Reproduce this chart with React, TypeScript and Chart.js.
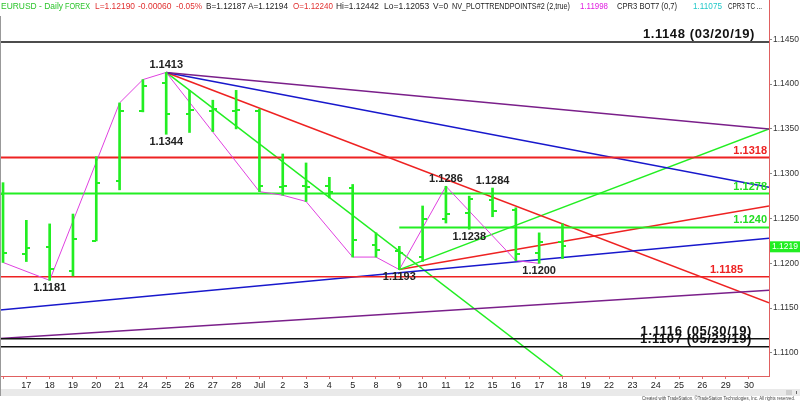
import React, { useEffect, useRef } from 'react';
import { Chart, registerables } from 'chart.js';

Chart.register(...registerables);

// ---------- data ----------
const xLabels = ['', '17', '18', '19', '20', '21', '24', '25', '26', '27', '28', 'Jul', '2', '3', '4', '5', '8', '9', '10', '11', '12', '15', '16', '17', '18', '19', '22', '23', '24', '25', '26', '29', '30'];

const opens = [1.1277, 1.1210, 1.1218, 1.1192, 1.1225, 1.1292, 1.1370, 1.1401, 1.1367, 1.1370, 1.1370, 1.1370, 1.1285, 1.1286, 1.1286, 1.1284, 1.1220, 1.1214, 1.1207, 1.1250, 1.1256, 1.1271, 1.1260, 1.1211, 1.1224];
const highs = [1.1290, 1.1248, 1.1244, 1.1255, 1.1319, 1.1379, 1.1405, 1.1413, 1.1393, 1.1382, 1.1393, 1.1372, 1.1322, 1.1312, 1.1296, 1.1288, 1.1234, 1.1219, 1.1264, 1.1286, 1.1275, 1.1284, 1.1262, 1.1234, 1.12442];
const lows = [1.1201, 1.1202, 1.1181, 1.1186, 1.1225, 1.1282, 1.1369, 1.1344, 1.1346, 1.1347, 1.1350, 1.1280, 1.1276, 1.1269, 1.1273, 1.1207, 1.1207, 1.1193, 1.1202, 1.1245, 1.1238, 1.1252, 1.1203, 1.1200, 1.12053];
const closes = [1.1211, 1.1217, 1.1194, 1.1227, 1.1290, 1.1370, 1.1398, 1.1367, 1.1371, 1.1372, 1.1371, 1.1286, 1.1286, 1.1285, 1.1280, 1.1226, 1.1215, 1.1212, 1.1250, 1.1255, 1.1272, 1.1258, 1.1210, 1.1224, 1.1219];

const zigIdx = [0, 2, 5, 6, 7, 11, 12, 13, 15, 16, 17, 19, 22, 23];
const zigPrice = [1.1201, 1.1181, 1.1379, 1.1405, 1.1413, 1.1280, 1.1276, 1.1269, 1.1207, 1.1207, 1.1193, 1.1286, 1.1203, 1.1200];

const yTicks = [1.1100, 1.1150, 1.1200, 1.1250, 1.1300, 1.1350, 1.1400, 1.1450];
const xMin = -0.13;
const xMax = 32.86;
const yMin = 1.10743;
const yMax = 1.14715;

// trend lines: [index, price] pairs
const purpleDown = [[7, 1.1413], [32.86, 1.1350]];
const blueDown = [[7, 1.1413], [32.86, 1.1285]];
const redDown = [[7, 1.1413], [32.86, 1.1156]];
const greenDown = [[7, 1.1413], [24, 1.1074]];
const greenUp = [[17, 1.1193], [32.86, 1.1350]];
const redUp = [[17, 1.1193], [32.86, 1.1264]];
const blueLong = [[-0.13, 1.1148], [32.86, 1.1228]];
const purpleLong = [[-0.13, 1.1116], [32.86, 1.1170]];

// horizontal levels
const levelPrices = [1.1447, 1.1318, 1.1278, 1.1185, 1.1116, 1.1107];
const levelTexts = ['1.1148 (03/20/19)', '1.1318', '1.1278', '1.1185', '1.1116 (05/30/19)', '1.1107 (05/23/19)'];
const partialLevelPrice = 1.1240;
const partialLevelStart = 17;
const partialLevelText = '1.1240';

// swing labels
const swingIdx = [7, 7, 2, 17, 19, 21, 20, 23];
const swingPrice = [1.1413, 1.1344, 1.1181, 1.1193, 1.1286, 1.1284, 1.1238, 1.1200];
const swingAbove = [true, false, false, false, true, true, false, false];

const lastPrice = 1.1219;

const headerTexts = ['EURUSD - Daily', 'FOREX', 'L=1.12190', '-0.00060', '-0.05%', 'B=1.12187', 'A=1.12194', 'O=1.12240', 'Hi=1.12442', 'Lo=1.12053', 'V=0', 'NV_PLOTTRENDPOINTS#2 (2,true)', '1.11998', 'CPR3 BOT7 (0,7)', '1.11075', 'CPR3 TC ...'];

// ---------- styles ----------
const GREEN = '#22ee22';
const RED = '#ee2222';
const BLUE = '#1818cc';
const PURPLE = '#7a1f8a';
const MAGENTA = '#e040e0';
const BLACK = '#111111';
const FONT = '"Liberation Sans", Arial, sans-serif';

const levelColors = [BLACK, RED, GREEN, RED, BLACK, BLACK];
const levelWidths = [1.5, 2, 2, 1.5, 1.5, 1.5];
const levelLabelRight = [755, 767, 767, 743, 752, 752];
const levelLabelColors = [BLACK, RED, '#22dd22', RED, BLACK, BLACK];
const levelLabelWide = [true, false, false, false, true, true];

const headerX = [1, 65, 95, 138, 176, 206, 248, 293, 336, 384, 433, 452, 580, 617, 693, 728];
const headerW = [62, 25, 40, 35, 26, 40, 40, 40, 43, 46, 15, 118, 28, 60, 29, 34];
const headerColors = ['#2cc42c', '#2cc42c', '#e03030', '#e03030', '#e03030', '#222', '#222', '#e03030', '#222', '#222', '#222', '#222', '#e020e0', '#222', '#22c8c8', '#222'];

const toPts = (arr: number[][]) => arr.map(([x, y]) => ({ x, y }));

const overlay = {
  id: 'overlay',
  afterDatasetsDraw(chart: any) {
    const { ctx, scales } = chart;
    const x = scales.x;
    const y = scales.y;
    ctx.save();
    // OHLC open/close ticks
    ctx.strokeStyle = GREEN;
    ctx.lineWidth = 2;
    opens.forEach((o, i) => {
      const px = Math.round(x.getPixelForValue(i));
      const oy = Math.round(y.getPixelForValue(o));
      const cy = Math.round(y.getPixelForValue(closes[i]));
      ctx.beginPath();
      ctx.moveTo(px - 4, oy);
      ctx.lineTo(px, oy);
      ctx.moveTo(px, cy);
      ctx.lineTo(px + 4, cy);
      ctx.stroke();
    });

    // swing labels
    ctx.font = `bold 11px ${FONT}`;
    ctx.fillStyle = '#222';
    ctx.textAlign = 'center';
    swingIdx.forEach((si, k) => {
      const px = x.getPixelForValue(si);
      const py = y.getPixelForValue(swingPrice[k]);
      if (swingAbove[k]) {
        ctx.textBaseline = 'bottom';
        ctx.fillText(swingPrice[k].toFixed(4), px, py - 2);
      } else {
        ctx.textBaseline = 'top';
        ctx.fillText(swingPrice[k].toFixed(4), px, py + 2);
      }
    });

    // level labels
    ctx.textAlign = 'right';
    ctx.textBaseline = 'bottom';
    levelTexts.forEach((t, k) => {
      ctx.fillStyle = levelLabelColors[k];
      if (levelLabelWide[k]) {
        ctx.font = `bold 13px ${FONT}`;
        (ctx as any).letterSpacing = '0.6px';
      } else {
        ctx.font = `bold 11px ${FONT}`;
        (ctx as any).letterSpacing = '0px';
      }
      ctx.fillText(t, levelLabelRight[k], y.getPixelForValue(levelPrices[k]) - 1);
    });
    (ctx as any).letterSpacing = '0px';
    ctx.font = `bold 11px ${FONT}`;
    ctx.fillStyle = '#22dd22';
    ctx.fillText(partialLevelText, 767, y.getPixelForValue(partialLevelPrice) - 2);
    ctx.restore();
  },
  afterDraw(chart: any) {
    const { ctx, scales, chartArea } = chart;
    const y = scales.y;
    ctx.save();
    // right axis line extends to top
    ctx.strokeStyle = '#e06060';
    ctx.lineWidth = 1;
    ctx.beginPath();
    ctx.moveTo(chartArea.right + 0.5, 0);
    ctx.lineTo(chartArea.right + 0.5, chartArea.bottom);
    ctx.stroke();
    // left gray border
    ctx.strokeStyle = '#999';
    ctx.beginPath();
    ctx.moveTo(0.5, 16);
    ctx.lineTo(0.5, 396);
    ctx.stroke();

    // last price box
    const ly = y.getPixelForValue(lastPrice);
    ctx.fillStyle = '#22ee22';
    ctx.fillRect(chartArea.right + 1, ly - 5, 31, 11);
    ctx.fillStyle = '#ffffff';
    ctx.font = `8.5px ${FONT}`;
    ctx.textAlign = 'left';
    ctx.textBaseline = 'middle';
    ctx.fillText(lastPrice.toFixed(4), chartArea.right + 3, ly + 0.5, 27);

    // header
    ctx.font = `8.5px ${FONT}`;
    ctx.textBaseline = 'middle';
    headerTexts.forEach((t, k) => {
      ctx.fillStyle = headerColors[k];
      ctx.fillText(t, headerX[k], 6.5, headerW[k]);
    });

    // scrollbar band
    ctx.fillStyle = '#e9e9e9';
    ctx.fillRect(1, 389, 799, 7);
    ctx.fillStyle = '#cfcfcf';
    ctx.fillRect(786, 390, 6, 5);
    ctx.fillStyle = '#666';
    ctx.fillRect(796, 391, 1, 3);

    // footer
    ctx.fillStyle = '#444';
    ctx.font = `5px ${FONT}`;
    ctx.textAlign = 'right';
    ctx.textBaseline = 'middle';
    ctx.fillText('Created with TradeStation. \u00A9TradeStation Technologies, Inc. All rights reserved.', 795, 399, 153);
    ctx.restore();
  },
};

export default function App() {
  const ref = useRef<HTMLCanvasElement>(null);
  useEffect(() => {
    if (!ref.current) return;
    const lineDs = (data: any[], color: string, width: number) => ({
      type: 'line' as const,
      data,
      borderColor: color,
      borderWidth: width,
      pointRadius: 0,
      fill: false,
      tension: 0,
      order: 2,
    });
    const datasets: any[] = [
      {
        type: 'bar',
        data: highs.map((h, i) => ({ x: i, y: [lows[i], h] })),
        backgroundColor: GREEN,
        borderWidth: 0,
        barThickness: 2,
        order: 0,
      },
      ...levelPrices.map((p, k) => lineDs([{ x: xMin, y: p }, { x: xMax, y: p }], levelColors[k], levelWidths[k])),
      lineDs([{ x: partialLevelStart, y: partialLevelPrice }, { x: xMax, y: partialLevelPrice }], GREEN, 2),
      lineDs(toPts(purpleLong), PURPLE, 1.5),
      lineDs(toPts(blueLong), BLUE, 1.5),
      lineDs(toPts(purpleDown), PURPLE, 1.5),
      lineDs(toPts(blueDown), BLUE, 1.5),
      lineDs(toPts(redDown), RED, 1.5),
      lineDs(toPts(greenDown), GREEN, 1.5),
      lineDs(toPts(greenUp), GREEN, 1.5),
      lineDs(toPts(redUp), RED, 1.5),
      { ...lineDs(zigIdx.map((xi, k) => ({ x: xi, y: zigPrice[k] })), MAGENTA, 1), order: 1 },
    ];
    const chart = new Chart(ref.current, {
      type: 'line',
      data: { datasets },
      options: {
        animation: false,
        responsive: false,
        maintainAspectRatio: false,
        layout: { padding: { top: 20, left: 0, right: 0, bottom: 0 } },
        plugins: { legend: { display: false }, tooltip: { enabled: false } },
        scales: {
          x: {
            type: 'linear',
            min: xMin,
            max: xMax,
            offset: false,
            afterBuildTicks: (s: any) => {
              s.ticks = xLabels.map((_, i) => ({ value: i }));
            },
            afterFit: (s: any) => {
              s.height = 26;
            },
            ticks: {
              autoSkip: false,
              maxRotation: 0,
              padding: 1,
              color: '#222',
              font: { size: 9, family: FONT },
              callback: (v: any) => xLabels[v] ?? '',
            },
            grid: { drawOnChartArea: false, drawTicks: true, tickLength: 3, color: '#e07070', offset: false },
            border: { color: '#e06060', width: 1 },
          },
          y: {
            type: 'linear',
            position: 'right',
            min: yMin,
            max: yMax,
            afterBuildTicks: (s: any) => {
              s.ticks = yTicks.map((v) => ({ value: v }));
            },
            afterFit: (s: any) => {
              s.width = 31;
            },
            ticks: {
              padding: 1,
              color: '#333',
              font: { size: 8.5, family: FONT },
              callback: (v: any) => Number(v).toFixed(4),
            },
            grid: { drawOnChartArea: false, drawTicks: true, tickLength: 3, color: '#888' },
            border: { color: '#e06060', width: 1 },
          },
        },
      },
      plugins: [overlay],
    } as any);
    return () => chart.destroy();
  }, []);
  return (
    <div style={{ position: 'absolute', left: 0, top: 0, width: 800, height: 402, background: '#fff' }}>
      <canvas ref={ref} width={800} height={402} style={{ display: 'block', width: 800, height: 402 }} />
    </div>
  );
}
